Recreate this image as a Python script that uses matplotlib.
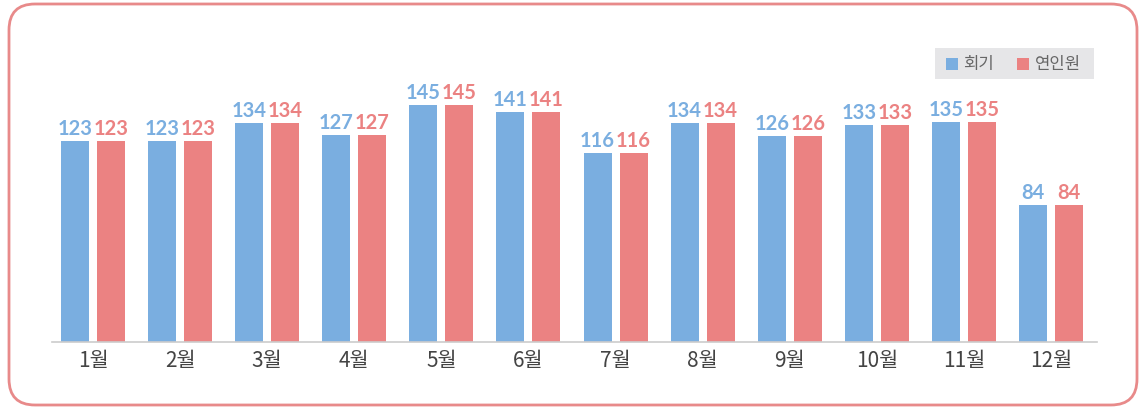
import matplotlib
matplotlib.use("Agg")
import matplotlib.pyplot as plt
from matplotlib.patches import FancyBboxPatch, Rectangle
import numpy as np

categories = ["1월", "2월", "3월", "4월", "5월", "6월", "7월", "8월", "9월", "10월", "11월", "12월"]
series_names = ["회기", "연인원"]
hoegi = [123, 123, 134, 127, 145, 141, 116, 134, 126, 133, 135, 84]
yeonin = [123, 123, 134, 127, 145, 141, 116, 134, 126, 133, 135, 84]

blue = "#7aaee0"
red = "#eb8282"

plt.rcParams['font.family'] = ['Noto Sans CJK KR', 'DejaVu Sans']

W, H = 1145, 410
fig = plt.figure(figsize=(W / 100, H / 100), dpi=100)

ax_l, ax_r = 52, 1097
ax_b, ax_t = 343, 45
ax = fig.add_axes([ax_l / W, 1 - ax_b / H, (ax_r - ax_l) / W, (ax_b - ax_t) / H])
ax.set_facecolor("none")
step = (1051 - 93) / 11
xmin = -(93 - ax_l) / step
xmax = xmin + (ax_r - ax_l) / step
ax.set_xlim(xmin, xmax)
ax.set_ylim(0, (ax_b - ax_t) / 1.633)

x = np.arange(len(categories))
bw = 28 / step
off = 18 / step
ax.bar(x - off, hoegi, width=bw, color=blue, zorder=2)
ax.bar(x + off, yeonin, width=bw, color=red, zorder=2)

for xi, v in zip(x, hoegi):
    ax.annotate(str(v), (xi - off, v), xytext=(0, 2), textcoords="offset points",
                ha="center", va="bottom", fontsize=14.5, fontweight="bold",
                color=blue, family=["Lato", "DejaVu Sans"])
for xi, v in zip(x, yeonin):
    ax.annotate(str(v), (xi + off, v), xytext=(0, 2), textcoords="offset points",
                ha="center", va="bottom", fontsize=14.5, fontweight="bold",
                color=red, family=["Lato", "DejaVu Sans"])

for s in ["top", "right", "left"]:
    ax.spines[s].set_visible(False)
ax.spines["bottom"].set_color("#cccccc")
ax.spines["bottom"].set_linewidth(1.2)
ax.set_yticks([])
ax.set_xticks(x)
ax.set_xticklabels(categories, fontsize=15, color="#444444")
ax.tick_params(axis="x", length=0, pad=5)

# overlay axes in pixel coordinates for border and legend
bg = fig.add_axes([0, 0, 1, 1])
bg.set_facecolor("none")
bg.set_xlim(0, W)
bg.set_ylim(H, 0)
bg.axis("off")
bg.add_patch(FancyBboxPatch((9, 5), 1128, 401,
                            boxstyle="round,pad=0,rounding_size=26",
                            fill=False, edgecolor="#e88a8a", linewidth=2.0))

bg.add_patch(Rectangle((935, 49), 159, 31, facecolor="#e6e6e8", edgecolor="none"))
for (px, tx, col, name) in [(946, 963, blue, series_names[0]), (1017, 1035, red, series_names[1])]:
    bg.add_patch(Rectangle((px, 58.5), 12, 12, facecolor=col, edgecolor="none"))
    bg.text(tx, 64.5, name, fontsize=12, color="#666666", va="center", ha="left")

fig.savefig("out.png", dpi=100)
